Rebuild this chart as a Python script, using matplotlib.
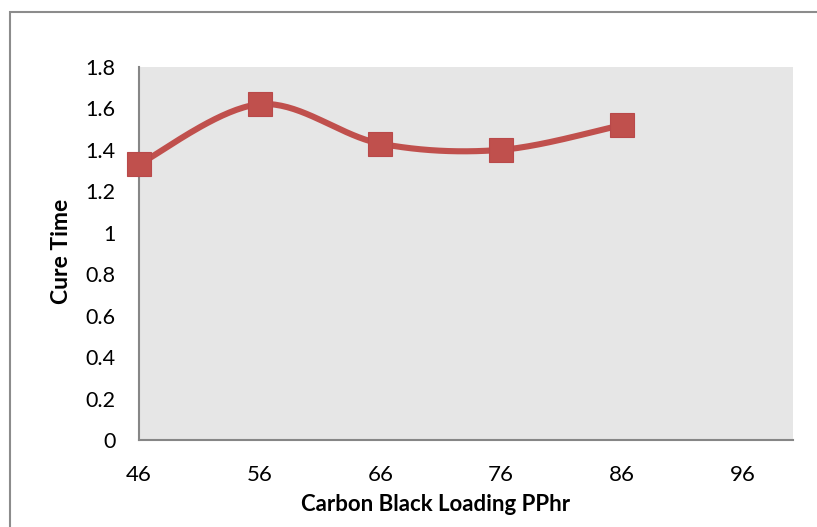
import matplotlib
matplotlib.use("Agg")
import matplotlib.pyplot as plt
import matplotlib.patches as patches
import numpy as np

plt.rcParams['font.family'] = ['Lato', 'DejaVu Sans']

loading = [46, 56, 66, 76, 86]
cure_time = [1.33, 1.62, 1.43, 1.40, 1.52]
x_ticks = [46, 56, 66, 76, 86, 96]
y_ticks = [0, 0.2, 0.4, 0.6, 0.8, 1, 1.2, 1.4, 1.6, 1.8]
y_tick_labels = ['0', '0.2', '0.4', '0.6', '0.8', '1', '1.2', '1.4', '1.6', '1.8']


def smooth_curve(xs, ys, n=40):
    # excel style smoothing: cubic bezier with catmull-rom control points
    xs = np.asarray(xs, float)
    ys = np.asarray(ys, float)
    px, py = [], []
    for i in range(len(xs) - 1):
        i0 = max(i - 1, 0)
        i3 = min(i + 2, len(xs) - 1)
        c1x = xs[i] + (xs[i + 1] - xs[i0]) / 6
        c1y = ys[i] + (ys[i + 1] - ys[i0]) / 6
        c2x = xs[i + 1] - (xs[i3] - xs[i]) / 6
        c2y = ys[i + 1] - (ys[i3] - ys[i]) / 6
        t = np.linspace(0, 1, n)
        px.extend((1 - t) ** 3 * xs[i] + 3 * (1 - t) ** 2 * t * c1x + 3 * (1 - t) * t ** 2 * c2x + t ** 3 * xs[i + 1])
        py.extend((1 - t) ** 3 * ys[i] + 3 * (1 - t) ** 2 * t * c1y + 3 * (1 - t) * t ** 2 * c2y + t ** 3 * ys[i + 1])
    return px, py


fig = plt.figure(figsize=(8.17, 5.27), dpi=100)
ax = fig.add_axes([0.170, 0.165, 0.801, 0.708])
ax.set_facecolor('#E6E6E6')

red = '#C0504D'
sx, sy = smooth_curve(loading, cure_time)
ax.plot(sx, sy, color=red, lw=4.4, solid_capstyle='round', zorder=3, clip_on=False)
ax.plot(loading, cure_time, 's', color=red, markersize=17, markeredgecolor='#B9494A',
        markeredgewidth=0.8, zorder=4, clip_on=False)

ax.set_xlim(46, 100.2)
ax.set_ylim(0, 1.8)
ax.set_xticks(x_ticks)
ax.set_yticks(y_ticks)
ax.set_yticklabels(y_tick_labels)
ax.tick_params(length=0, labelsize=15.5)
ax.tick_params(axis='x', pad=18, labelsize=16)
ax.tick_params(axis='y', pad=17)

for s in ['top', 'right']:
    ax.spines[s].set_visible(False)
for s in ['left', 'bottom']:
    ax.spines[s].set_color('#868686')
    ax.spines[s].set_linewidth(1.5)

ax.set_xlabel('Carbon Black Loading PPhr', fontsize=16, fontweight='bold')
ax.set_ylabel('Cure Time', fontsize=16.5, fontweight='bold')
ax.xaxis.set_label_coords(0.453, -0.174)
ax.xaxis.label.set_va('center')
ax.yaxis.set_label_coords(-0.118, 0.505)
ax.yaxis.label.set_va('center')

# outer chart border
fig.patches.append(patches.Rectangle((0.012, -0.1), 1.1, 0.1 + 0.977, transform=fig.transFigure,
                                     fill=False, edgecolor='#8C8C8C', lw=1.5))

fig.savefig('out.png', dpi=100)
